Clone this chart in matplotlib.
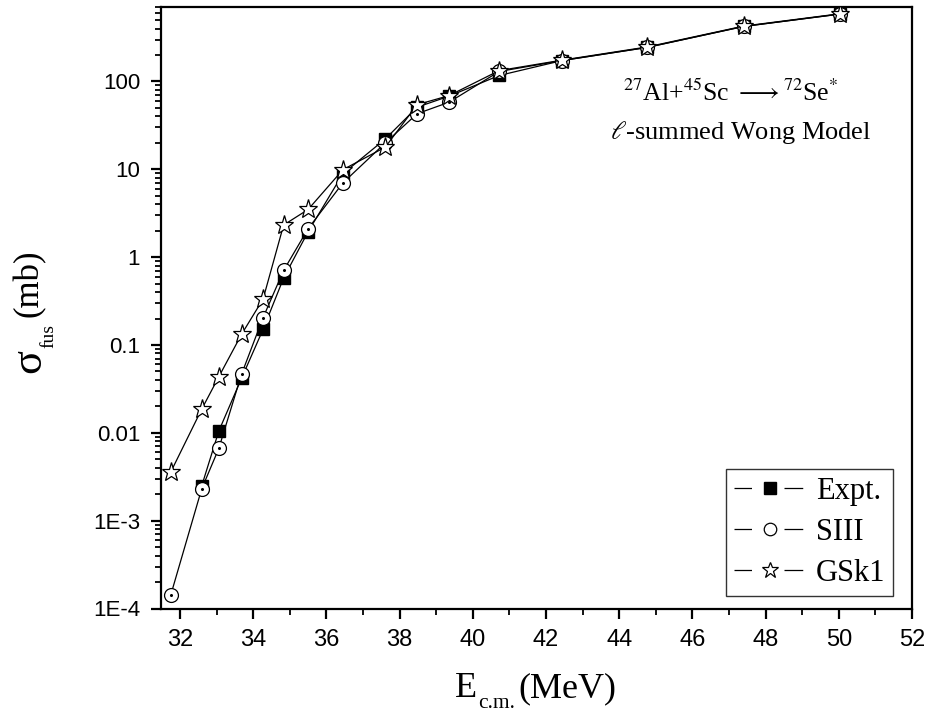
import matplotlib
matplotlib.use("Agg")
import matplotlib.pyplot as plt
from matplotlib.lines import Line2D
from matplotlib.legend_handler import HandlerTuple
from matplotlib.ticker import FixedLocator, FixedFormatter, NullFormatter, LogLocator, MultipleLocator

plt.rcParams['mathtext.fontset'] = 'stix'
plt.rcParams['font.family'] = ['Liberation Serif', 'DejaVu Serif']

# ---- data ----
E_theory = [31.75, 32.59, 33.06, 33.68, 34.27, 34.83, 35.50, 36.45, 37.61, 38.48,
            39.35, 40.72, 42.44, 44.76, 47.40, 50.03]
E_expt = E_theory[1:]
sig_expt = [0.00247, 0.0105, 0.0417, 0.151, 0.578, 1.95, 8.9, 22.2, 51, 68,
            117, 173, 244, 423, 585]
sig_siii = [1.44e-4, 0.00229, 0.00665, 0.0464, 0.205, 0.706, 2.11, 7.0, 20, 43,
            58, 130, 173, 244, 423, 585]
sig_gsk1 = [0.0036, 0.0185, 0.0435, 0.132, 0.334, 2.32, 3.49, 9.9, 17.9, 54.5,
            69, 133, 175, 247, 427, 590]

xticks = [32, 34, 36, 38, 40, 42, 44, 46, 48, 50, 52]
yticks = [1e-4, 1e-3, 1e-2, 1e-1, 1, 10, 100]
ytick_labels = ['1E-4', '1E-3', '0.01', '0.1', '1', '10', '100']
labels = ['Expt.', 'SIII', 'GSk1']

W, H = 927, 715
fig = plt.figure(figsize=(W/100, H/100), dpi=100)
ax = fig.add_axes([161/W, 1-608.5/H, (912-161)/W, (608.5-6.7)/H])

lw = 0.9
ax.plot(E_expt, sig_expt, '-', color='black', lw=lw, marker='s', ms=8,
        mfc='black', mec='black', zorder=3)
ax.plot(E_theory, sig_siii, '-', color='black', lw=lw, marker='o', ms=10,
        mfc='white', mec='black', mew=0.9, zorder=4)
ax.plot(E_theory, sig_siii, linestyle='none', marker='o', ms=1.2,
        mfc='black', mec='black', zorder=4.5)
ax.plot(E_theory, sig_gsk1, '-', color='black', lw=lw, marker='*', ms=14,
        mfc='white', mec='black', mew=0.9, zorder=5)

ax.set_yscale('log')
ax.set_xlim(31.48, 52)
ax.set_ylim(1e-4, 710)

ax.xaxis.set_major_locator(FixedLocator(xticks))
ax.xaxis.set_minor_locator(MultipleLocator(1))
ax.yaxis.set_major_locator(FixedLocator(yticks))
ax.yaxis.set_major_formatter(FixedFormatter(ytick_labels))
ax.yaxis.set_minor_locator(LogLocator(base=10, subs=range(2, 10), numticks=20))
ax.yaxis.set_minor_formatter(NullFormatter())

for sp in ax.spines.values():
    sp.set_linewidth(1.6)

ax.tick_params(axis='both', which='major', direction='out', length=7, width=1.6,
               labelfontfamily='Liberation Sans')
ax.tick_params(axis='both', which='minor', direction='out', length=4, width=1.3)
ax.tick_params(axis='x', which='major', labelsize=17, pad=8)
ax.tick_params(axis='y', which='major', labelsize=16, pad=8)
ax.tick_params(top=False, right=False)

# x axis label: E_c.m.(MeV)
fig.text(455/W, 1-697/H, 'E', fontsize=26, ha='left', va='baseline')
fig.text(478/W, 1-708/H, 'c.m.', fontsize=15.5, ha='left', va='baseline')
fig.text(518/W, 1-697/H, '(MeV)', fontsize=26, ha='left', va='baseline')

# y axis label: sigma_fus(mb)
fig.text(40/W, 1-373/H, 'σ', fontsize=32, rotation=90, rotation_mode='anchor',
         ha='left', va='baseline')
fig.text(53/W, 1-348/H, 'fus', fontsize=14, rotation=90, rotation_mode='anchor',
         ha='left', va='baseline')
fig.text(38/W, 1-317/H, '(mb)', fontsize=25, rotation=90, rotation_mode='anchor',
         ha='left', va='baseline')

fig.text(731/W, 1-93/H, r'$^{27}$Al+$^{45}$Sc $\longrightarrow$$^{72}$Se$^{*}$',
         fontsize=18.5, ha='center', va='center')
fig.text(741/W, 1-133/H, r'$\ell$-summed Wong Model',
         fontsize=19, ha='center', va='center')

# legend handles: line with a gap around the marker
gap_line = dict(color='black', lw=lw, linestyle=(0, (14, 26, 15, 200)))
handles = [
    (Line2D([], [], **gap_line),
     Line2D([], [], linestyle='none', marker='s', ms=8, mfc='black', mec='black')),
    (Line2D([], [], **gap_line),
     Line2D([], [], linestyle='none', marker='o', ms=9, mfc='white', mec='black', mew=0.9)),
    (Line2D([], [], **gap_line),
     Line2D([], [], linestyle='none', marker='*', ms=12, mfc='white', mec='black', mew=0.9)),
]
leg = fig.legend(handles, labels, loc='upper left',
                 bbox_to_anchor=(726/W, 1-469/H), fontsize=22,
                 handler_map={tuple: HandlerTuple(ndivide=1, pad=0)},
                 frameon=True, fancybox=False, edgecolor='black',
                 handlelength=2.39, handletextpad=0.3, borderpad=0.25,
                 labelspacing=0.4, borderaxespad=0)
leg.get_frame().set_linewidth(1.0)

fig.savefig('out.png', dpi=100)
